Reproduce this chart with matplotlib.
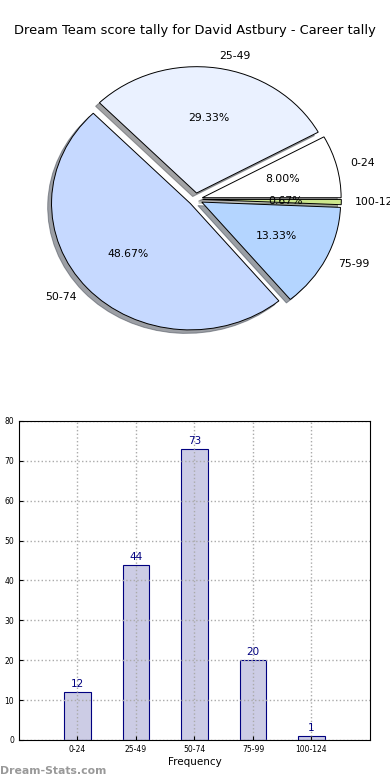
import matplotlib
matplotlib.use("Agg")
import matplotlib.pyplot as plt

# score bands and counts
bands = ['0-24', '25-49', '50-74', '75-99', '100-124']
counts = [12, 44, 73, 20, 1]
pie_colors = ['#FFFFFF', '#EAF1FF', '#C6D9FF', '#B4D5FF', '#CCE68C']

fig = plt.figure(figsize=(3.9, 7.8), dpi=100)

# pie (elliptical, like the original)
ax1 = fig.add_axes([0.0564, 0.542, 0.89, 0.405])
ax1.pie(counts, labels=bands, colors=pie_colors, explode=[0.05] * len(counts),
        autopct='%1.2f%%', shadow=True, startangle=0,
        wedgeprops={'edgecolor': 'black', 'linewidth': 0.7},
        textprops={'fontsize': 7.8})
ax1.set_aspect('auto')
ax1.set_xlim(-1.25, 1.25)
ax1.set_ylim(-1.25, 1.25)
fig.text(0.5, 0.9615, 'Dream Team score tally for David Astbury - Career tally',
         ha='center', va='center', fontsize=9.4)

# bar chart
ax2 = fig.add_axes([0.0487, 0.0513, 0.9, 0.409])
x = list(range(len(bands)))
ax2.bar(x, counts, width=0.45, color='#CCCCE5', edgecolor='navy', linewidth=0.8, zorder=1)
for xi, c in zip(x, counts):
    ax2.text(xi, c + 0.7, str(c), ha='center', va='bottom', color='navy', fontsize=7.5)
ax2.set_xlim(-1, 5)
ax2.set_ylim(0, 80)
ax2.set_xticks(x)
ax2.set_xticklabels(bands, fontsize=5.5)
ax2.set_yticks(range(0, 81, 10))
ax2.tick_params(axis='y', labelsize=5.5)
ax2.tick_params(direction='in', length=3)
ax2.set_axisbelow('line')
ax2.grid(True, linestyle=':', color='#AAAAAA', linewidth=1)
ax2.set_xlabel('Frequency', fontsize=7.5, labelpad=2)

fig.text(0.0, 0.005, 'Dream-Stats.com', color='#999999', fontsize=7.8, fontweight='bold',
         ha='left', va='bottom')

fig.savefig('out.png', dpi=100)
